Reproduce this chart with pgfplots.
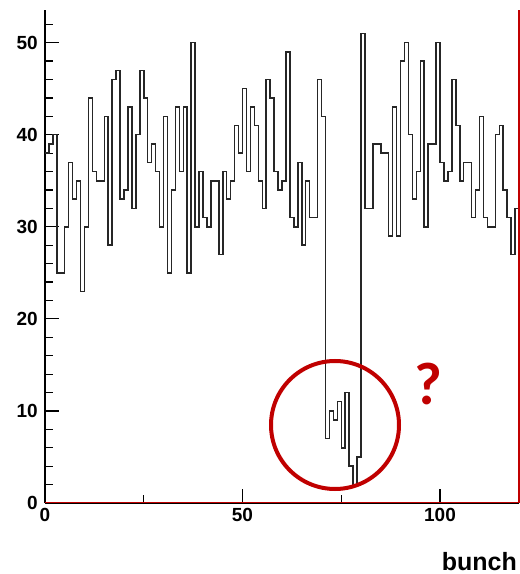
\documentclass[border=0pt]{standalone}
\usepackage{pgfplots}
\pgfplotsset{compat=1.18}
\usepackage{fontspec}
\setmainfont{Liberation Sans}
\newfontfamily\calib{Carlito}
\definecolor{markred}{RGB}{192,0,0}

\pgfplotstableread{
x y
0 38
1 39
2 40
3 25
4 25
5 30
6 37
7 33
8 35
9 23
10 30
11 44
12 36
13 35
14 35
15 42
16 28
17 46
18 47
19 33
20 34
21 43
22 32
23 40
24 47
25 44
26 37
27 39
28 36
29 30
30 42
31 25
32 34
33 43
34 36
35 43
36 25
37 50
38 30
39 36
40 31
41 30
42 35
43 35
44 27
45 36
46 33
47 35
48 41
49 38
50 45
51 36
52 43
53 41
54 35
55 32
56 46
57 44
58 36
59 34
60 35
61 49
62 31
63 30
64 37
65 28
66 35
67 31
68 31
69 46
70 42
71 7
72 10
73 9
74 11
75 6
76 12
77 4
78 2
79 5
80 51
81 32
82 32
83 39
84 39
85 38
86 38
87 29
88 43
89 29
90 48
91 50
92 40
93 33
94 36
95 48
96 30
97 39
98 39
99 50
100 37
101 35
102 36
103 46
104 41
105 35
106 37
107 37
108 31
109 34
110 42
111 31
112 30
113 30
114 40
115 41
116 34
117 31
118 27
119 32
120 32
}\bunches

\begin{document}
\begin{tikzpicture}
\path[use as bounding box] (0,0) rectangle (520pt,574pt);
\begin{axis}[
  at={(45pt,71pt)}, anchor=south west,
  width=474pt, height=493pt, scale only axis,
  xmin=0, xmax=120, ymin=0, ymax=53.55,
  axis x line=bottom, axis y line=left,
  axis line style={line width=1.6pt, -},
  xtick={0,50,100}, minor xtick={25,75},
  ytick={0,10,...,50}, minor ytick={2,4,...,52},
  tick align=inside,
  major tick length=14pt, minor tick length=8pt,
  every tick/.style={black, line width=1.2pt},
  /pgf/number format/assume math mode=true,
  tick label style={font=\fontsize{19}{19}\selectfont\bfseries},
  yticklabel style={inner sep=0pt, xshift=-7pt},
  xticklabel style={inner sep=0pt, yshift=-5pt},
  clip=false,
]
  \addplot[const plot mark left, black!85, line width=1.5pt] table {\bunches};
  \draw[markred, line width=1.4pt] ([yshift=0.5pt]axis cs:0,0) -- ([yshift=0.5pt]axis cs:120,0) -- (axis cs:120,53.55);
\end{axis}
\draw[markred, line width=4pt] (335pt,149pt) circle (64pt);
\node[text=markred, font=\calib\fontsize{60}{60}\selectfont\bfseries] at (428pt,190pt) {?};
\node[anchor=base east, inner sep=0pt, font=\fontsize{25}{25}\selectfont\bfseries] at (517pt,4pt) {bunch};
\end{tikzpicture}
\end{document}
